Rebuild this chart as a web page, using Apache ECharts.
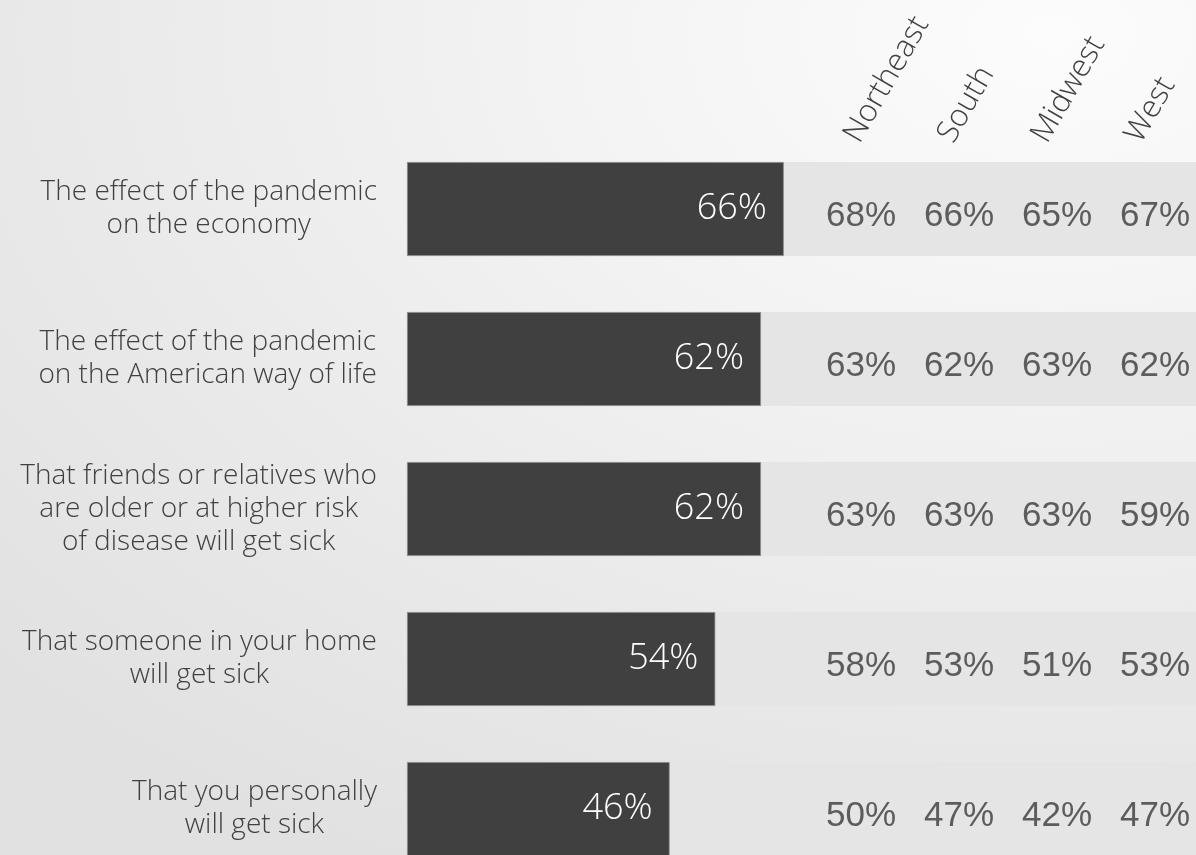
<!DOCTYPE html>
<html>
<head>
<meta charset="utf-8">
<script src="https://cdn.jsdelivr.net/npm/echarts@6/dist/echarts.min.js"></script>
<style>
html,body{margin:0;padding:0;}
#chart{width:1196px;height:855px;background:radial-gradient(ellipse 120% 110% at 88% 4%, #fcfcfc 0%, #f3f3f3 35%, #e9e9e9 70%, #e1e1e1 100%);}
</style>
</head>
<body>
<div id="chart"></div>
<script>
const categories = [
  "The effect of the pandemic\non the economy",
  "The effect of the pandemic\non the American way of life",
  "That friends or relatives who\nare older or at higher risk\nof disease will get sick",
  "That someone in your home\nwill get sick",
  "That you personally\nwill get sick"
];
const regions = ["Northeast", "South", "Midwest", "West"];
const overall = [66, 62, 62, 54, 46];
const northeast = [68, 63, 63, 58, 50];
const south = [66, 62, 63, 53, 47];
const midwest = [65, 63, 63, 51, 42];
const west = [67, 62, 59, 53, 47];
const regionValues = [northeast, south, midwest, west];

const chart = echarts.init(document.getElementById('chart'), null, {renderer: 'canvas'});
const dark = '#404040';
const labelFont = '"Open Sans", "DejaVu Sans", sans-serif';

const option = {
  backgroundColor: 'transparent',
  animation: false,
  grid: [
    {left: 407, right: 0, top: 134, bottom: -29, outerBoundsMode: 'none', containLabel: false},
    {left: 812, right: -8, top: 134, bottom: -29, outerBoundsMode: 'none', containLabel: false},
    {left: 805, right: 16, top: 134, bottom: -29, outerBoundsMode: 'none', containLabel: false}
  ],
  xAxis: [
    {type: 'value', gridIndex: 0, min: 0, max: 138.2, show: false},
    {type: 'category', gridIndex: 1, data: regions, show: false},
    {
      type: 'category', gridIndex: 2, data: regions, position: 'top',
      axisLine: {show: false}, axisTick: {show: false}, splitLine: {show: false},
      axisLabel: {
        rotate: -60, margin: -6, color: dark, fontSize: 31, fontWeight: 300,
        fontFamily: labelFont
      }
    }
  ],
  yAxis: [
    {
      type: 'category', gridIndex: 0, data: categories, inverse: true,
      axisLine: {show: false}, axisTick: {show: false}, splitLine: {show: false},
      axisLabel: {
        margin: 30, align: 'right',
        formatter: v => v.split('\n').map(l => '{c|' + l + '}').join('\n'),
        rich: {
          c: {align: 'center', fontSize: 28, fontWeight: 300, fontFamily: labelFont, color: dark, lineHeight: 33}
        }
      }
    },
    {type: 'category', gridIndex: 1, data: categories, inverse: true, show: false},
    {type: 'category', gridIndex: 2, data: categories, inverse: true, show: false}
  ],
  series: [
    {
      type: 'bar', xAxisIndex: 0, yAxisIndex: 0, data: overall, barWidth: 94,
      itemStyle: {color: dark, borderColor: '#8a8a8a', borderWidth: 0.8},
      showBackground: true,
      backgroundStyle: {color: '#e5e5e5'},
      label: {
        show: true, position: 'insideRight', distance: 17, formatter: '{c}%',
        color: '#ffffff', fontSize: 36, fontWeight: 300, fontFamily: labelFont
      }
    }
  ].concat(regions.map((r, ri) => ({
    type: 'scatter', xAxisIndex: 1, yAxisIndex: 1, name: r,
    symbolSize: 1, itemStyle: {color: 'transparent'},
    data: categories.map((c, ci) => [r, c, regionValues[ri][ci]]),
    encode: {x: 0, y: 1},
    label: {
      show: true, position: 'inside', offset: [0, 7],
      formatter: p => p.value[2] + '%',
      color: '#3a3a3a', fontSize: 35, fontFamily: '"Liberation Sans", Arial, sans-serif'
    }
  })))
};
chart.setOption(option);
</script>
</body>
</html>
